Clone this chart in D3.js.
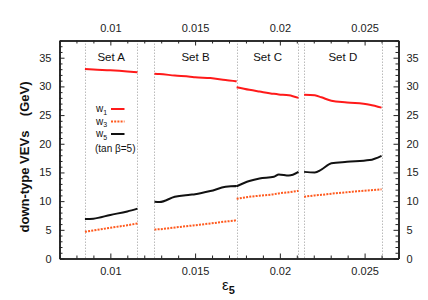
<!DOCTYPE html>
<html><head><meta charset="utf-8">
<script src="https://cdn.jsdelivr.net/npm/d3@7"></script>
<style>body{margin:0;background:#fff}svg{display:block;font-family:"Liberation Sans",Arial,sans-serif}</style>
</head><body><svg id="c" width="428" height="300"></svg>
<script>
// ---- data ----
const setNames = ["Set A", "Set B", "Set C", "Set D"];
const setBounds = [[0.0085, 0.0116], [0.0126, 0.01745], [0.01745, 0.0211], [0.02143, 0.0260]];
const epsA = [0.0085, 0.0090, 0.0100, 0.0110, 0.0116];
const w1A = [33.05, 32.95, 32.8, 32.6, 32.45];
const w3A = [4.65, 4.9, 5.35, 5.8, 6.1];
const w5A = [6.9, 6.95, 7.6, 8.2, 8.7];
const epsB = [0.0126, 0.0129, 0.0138, 0.0147, 0.0150, 0.0159, 0.0168, 0.0174, 0.01745];
const w1B = [32.2, 32.15, 31.9, 31.7, 31.6, 31.45, 31.1, 30.9, 30.85];
const w3B = [5.05, 5.1, 5.4, 5.7, 5.8, 6.1, 6.45, 6.65, 6.7];
const w5B = [9.9, 9.85, 10.75, 11.1, 11.2, 11.75, 12.5, 12.65, 12.5];
const epsC = [0.01745, 0.0182, 0.0188, 0.01965, 0.01994, 0.02053, 0.0211];
const w1C = [29.85, 29.4, 29.1, 28.7, 28.6, 28.45, 28.0];
const w3C = [10.4, 10.75, 10.95, 11.2, 11.35, 11.55, 11.8];
const w5C = [12.6, 13.5, 13.95, 14.25, 14.65, 14.45, 15.1];
const epsD = [0.02143, 0.02206, 0.02245, 0.02304, 0.02396, 0.0253, 0.0260];
const w1D = [28.55, 28.45, 28.1, 27.5, 27.2, 26.8, 26.3];
const w3D = [10.75, 11.0, 11.1, 11.3, 11.55, 11.9, 12.05];
const w5D = [15.1, 15.0, 15.5, 16.6, 16.85, 17.15, 17.9];
const xTicks = [0.01, 0.015, 0.02, 0.025];
const yTicks = [0, 5, 10, 15, 20, 25, 30, 35];

const sets = [
  {eps: epsA, w1: w1A, w3: w3A, w5: w5A},
  {eps: epsB, w1: w1B, w3: w3B, w5: w5B},
  {eps: epsC, w1: w1C, w3: w3C, w5: w5C},
  {eps: epsD, w1: w1D, w3: w3D, w5: w5D}
];

// ---- layout ----
const svg = d3.select("#c");
const L = 59.5, R = 398.5, T = 40.5, B = 258.5;
const x = d3.scaleLinear().domain([0.007, 0.027]).range([L, R]);
const y = d3.scaleLinear().domain([0, 38]).range([B, T]);
const axisCol = "#222";

// set boundary dotted lines
const bounds = [];
setBounds.forEach(b => { bounds.push(b[0]); bounds.push(b[1]); });
svg.append("g").selectAll("line").data(Array.from(new Set(bounds))).join("line")
  .attr("x1", d => Math.round(x(d)) + 0.5).attr("x2", d => Math.round(x(d)) + 0.5)
  .attr("y1", T).attr("y2", B)
  .attr("stroke", "#bbb").attr("stroke-width", 1).attr("stroke-dasharray", "1.5,1.5");

// set labels
svg.append("g").selectAll("text").data(setNames).join("text")
  .attr("x", (d, i) => x((setBounds[i][0] + setBounds[i][1]) / 2))
  .attr("y", 61).attr("text-anchor", "middle").attr("font-size", 11.5).attr("fill", "#111")
  .text(d => d);

// axes
const xMinor = d3.range(0.007, 0.0271, 0.001).filter(v => !xTicks.some(t => Math.abs(t - v) < 1e-6));
const yMinor = d3.range(0, 38.5, 1).filter(v => v % 5 !== 0);

svg.append("g").attr("transform", `translate(0,${B})`)
  .call(d3.axisBottom(x).tickValues(xTicks).tickFormat(d3.format("")).tickSizeInner(-5).tickSizeOuter(0).tickPadding(9));
svg.append("g").attr("transform", `translate(0,${T})`)
  .call(d3.axisTop(x).tickValues(xTicks).tickFormat(d3.format("")).tickSizeInner(-5).tickSizeOuter(0).tickPadding(9));
svg.append("g").attr("transform", `translate(${L},0)`)
  .call(d3.axisLeft(y).tickValues(yTicks).tickSizeInner(-5).tickSizeOuter(0).tickPadding(8));
svg.append("g").attr("transform", `translate(${R},0)`)
  .call(d3.axisRight(y).tickValues(yTicks).tickSizeInner(-5).tickSizeOuter(0).tickPadding(8));
// minor ticks
svg.append("g").attr("transform", `translate(0,${B})`)
  .call(d3.axisBottom(x).tickValues(xMinor).tickFormat("").tickSizeInner(-3).tickSizeOuter(0));
svg.append("g").attr("transform", `translate(0,${T})`)
  .call(d3.axisTop(x).tickValues(xMinor).tickFormat("").tickSizeInner(-3).tickSizeOuter(0));
svg.append("g").attr("transform", `translate(${L},0)`)
  .call(d3.axisLeft(y).tickValues(yMinor).tickFormat("").tickSizeInner(-3).tickSizeOuter(0));
svg.append("g").attr("transform", `translate(${R},0)`)
  .call(d3.axisRight(y).tickValues(yMinor).tickFormat("").tickSizeInner(-3).tickSizeOuter(0));

svg.selectAll(".domain").attr("stroke", axisCol).attr("stroke-width", 1.6);
svg.selectAll(".tick line").attr("stroke", axisCol).attr("stroke-width", 1);
svg.selectAll(".tick text").attr("font-size", 11).attr("fill", "#222")
  .attr("font-family", "'Liberation Sans', Arial, sans-serif");

// curves
const line = d3.line().x(d => x(d[0])).y(d => y(d[1])).curve(d3.curveMonotoneX);
const styles = {
  w3: {color: "#ff5a1e", dash: "2,1.2", width: 2},
  w5: {color: "#111", dash: null, width: 2},
  w1: {color: "#ff1a1a", dash: null, width: 2}
};
const gLines = svg.append("g");
sets.forEach(s => {
  ["w3", "w5", "w1"].forEach(k => {
    const pts = s.eps.map((e, i) => [e, s[k][i]]);
    gLines.append("path").attr("d", line(pts)).attr("fill", "none")
      .attr("stroke", styles[k].color).attr("stroke-width", styles[k].width)
      .attr("stroke-dasharray", styles[k].dash);
  });
});

// legend
const legItems = [["1", "w1", 109], ["3", "w3", 121.5], ["5", "w5", 134]];
const leg = svg.append("g");
legItems.forEach(([sub, k, yy]) => {
  const t = leg.append("text").attr("x", 96).attr("y", yy + 3).attr("font-size", 10).attr("fill", "#111");
  t.append("tspan").text("w");
  t.append("tspan").attr("font-size", 7).attr("dy", 2.5).text(sub);
  leg.append("line").attr("x1", 111).attr("x2", 124.5).attr("y1", yy).attr("y2", yy)
    .attr("stroke", styles[k].color).attr("stroke-width", 2).attr("stroke-dasharray", styles[k].dash);
});
leg.append("text").attr("x", 95).attr("y", 152).attr("font-size", 10).attr("fill", "#111").text("(tan β=5)");

// axis titles
svg.append("text").attr("transform", "translate(29,157) rotate(-90)")
  .attr("text-anchor", "middle").attr("font-size", 13).attr("font-weight", "bold").attr("fill", "#111")
  .text("down-type VEVs\u00a0\u00a0\u00a0\u00a0(GeV)");
const xt = svg.append("text").attr("x", 222).attr("y", 290).attr("font-size", 15).attr("fill", "#111");
xt.append("tspan").text("ε");
xt.append("tspan").attr("font-size", 11).attr("font-weight", "bold").attr("dy", 4).text("5");
</script></body></html>
